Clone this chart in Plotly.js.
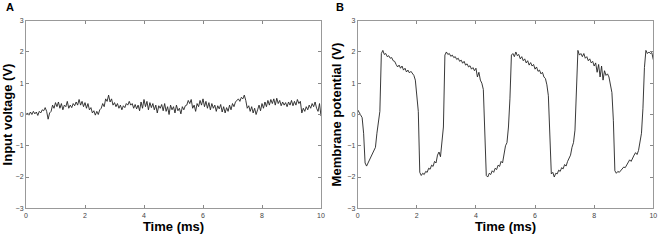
<!DOCTYPE html>
<html>
<head>
<meta charset="utf-8">
<script src="https://cdn.plot.ly/plotly-3.0.1.min.js"></script>
<style>html,body{margin:0;padding:0;background:#fff;}#chart{width:661px;height:240px;}</style>
</head>
<body>
<div id="chart"></div>
<script>
// Panel A: input voltage (V), sampled every 0.05 ms from 0 to 10 ms
const inputVoltage = [
  0.0, 0.05, -0.02, 0.08, 0.0, 0.1, 0.02, 0.08, -0.03, 0.1,
  0.05, 0.15, 0.12, 0.22, 0.1, -0.15, 0.05, 0.1, 0.3, 0.2,
  0.38, 0.25, 0.4, 0.2, 0.35, 0.15, 0.3, 0.25, 0.42, 0.2,
  0.3, 0.22, 0.35, 0.28, 0.4, 0.3, 0.48, 0.3, 0.42, 0.25,
  0.38, 0.2, 0.35, 0.15, 0.22, 0.05, 0.12, -0.02, 0.1, 0.0,
  0.15, 0.2, 0.35, 0.25, 0.5, 0.42, 0.62, 0.4, 0.5, 0.3,
  0.38, 0.25, 0.35, 0.2, 0.3, 0.15, 0.28, 0.22, 0.35, 0.3,
  0.42, 0.3, 0.35, 0.2, 0.32, 0.18, 0.3, 0.12, 0.4, 0.2,
  0.48, 0.25, 0.42, 0.15, 0.38, 0.22, 0.35, 0.15, 0.3, 0.05,
  0.28, 0.2, 0.32, 0.12, 0.35, 0.1, 0.25, 0.0, 0.3, 0.15,
  0.25, 0.05, 0.3, 0.12, 0.2, 0.02, 0.25, 0.15, 0.28, 0.3,
  0.45, 0.35, 0.48, 0.2, 0.3, 0.1, 0.35, 0.25, 0.45, 0.3,
  0.5, 0.25, 0.42, 0.2, 0.38, 0.15, 0.35, 0.2, 0.3, 0.1,
  0.28, 0.18, 0.32, 0.08, 0.25, 0.05, 0.22, 0.1, 0.3, 0.15,
  0.35, 0.25, 0.4, 0.45, 0.5, 0.42, 0.55, 0.5, 0.62, 0.45,
  0.2, 0.28, 0.1, 0.25, 0.05, 0.2, 0.0, 0.15, 0.3, 0.12,
  0.35, 0.2, 0.4, 0.25, 0.45, 0.3, 0.48, 0.35, 0.5, 0.3,
  0.52, 0.35, 0.45, 0.28, 0.4, 0.3, 0.38, 0.25, 0.4, 0.3,
  0.45, 0.28, 0.42, 0.3, 0.48, 0.35, 0.42, 0.05, 0.2, 0.1,
  0.25, 0.15, 0.3, 0.2, 0.35, 0.25, 0.4, 0.2, 0.1, 0.35,
  -0.05
];
// Panel B: membrane potential (V), sampled every 0.05 ms from 0 to 10 ms
const membranePotential = [
  0.15, 0.05, -0.02, -0.1, -0.6, -1.55, -1.65, -1.55, -1.5, -1.35,
  -1.3, -1.15, -1.05, -0.6, -0.2, 0.1, 1.95, 2.05, 1.92, 1.95,
  1.85, 1.88, 1.8, 1.82, 1.72, 1.7, 1.6, 1.52, 1.58, 1.48,
  1.55, 1.42, 1.48, 1.36, 1.42, 1.33, 1.38, 1.3, 1.25, 1.1,
  0.45, 0.1, -1.85, -1.95, -1.88, -1.92, -1.82, -1.85, -1.72, -1.75,
  -1.62, -1.66, -1.5, -1.55, -1.3, -1.2, -1.35, -0.9, -0.4, 1.9,
  2.0, 1.92, 1.95, 1.86, 1.9, 1.82, 1.85, 1.76, 1.8, 1.7,
  1.74, 1.64, 1.7, 1.58, 1.62, 1.52, 1.56, 1.45, 1.5, 1.4,
  1.48, 1.2, 1.35, 1.1, 1.0, 0.8, -0.5, -1.95, -2.0, -1.88,
  -1.92, -1.8, -1.85, -1.72, -1.76, -1.62, -1.66, -1.5, -1.55, -1.2,
  -1.0, -0.9, -0.4, 0.5, 1.9, 1.95, 1.85, 2.0, 1.88, 1.92,
  1.78, 1.85, 1.72, 1.78, 1.65, 1.72, 1.58, 1.66, 1.55, 1.6,
  1.45, 1.52, 1.38, 1.42, 1.3, 1.35, 1.2, 1.15, 0.95, 0.6,
  -0.5, -1.9, -1.85, -2.0, -1.88, -1.9, -1.78, -1.82, -1.7, -1.74,
  -1.6, -1.65, -1.5, -1.42, -1.3, -1.05, -0.9, -0.5, 0.6, 2.05,
  1.9, 1.95, 1.85, 1.95, 1.8, 1.85, 1.72, 1.78, 1.65, 1.7,
  1.55, 1.65, 1.35, 1.6, 1.2, 1.55, 1.1, 1.4, 1.25, 1.3,
  1.2, 1.0, 0.7, -0.2, -1.8, -1.88, -1.82, -1.85, -1.78, -1.75,
  -1.68, -1.7, -1.6, -1.55, -1.45, -1.5, -1.38, -1.3, -1.22, -1.28,
  -1.15, -0.9, -0.6, 0.2, 1.5, 2.05, 1.95, 2.0, 1.95, 1.98,
  1.75
];
const xTickVals = [0, 2, 4, 6, 8, 10];
const yTickVals = [-3, -2, -1, 0, 1, 2, 3];
const panelLabels = ['A', 'B'];
const yTitles = ['Input voltage (V)', 'Membrane potential (V)'];
const xTitle = 'Time (ms)';

function timesFor(arr) {
  const dt = 10 / (arr.length - 1);
  return arr.map((_, i) => +(i * dt).toFixed(4));
}

const lineStyle = {color: '#222', width: 0.9};
const traces = [
  {x: timesFor(inputVoltage), y: inputVoltage, type: 'scatter', mode: 'lines', line: lineStyle, xaxis: 'x', yaxis: 'y', hoverinfo: 'skip'},
  {x: timesFor(membranePotential), y: membranePotential, type: 'scatter', mode: 'lines', line: lineStyle, xaxis: 'x2', yaxis: 'y2', hoverinfo: 'skip'}
];

const tickFont = {family: 'Liberation Sans, Arial, sans-serif', size: 7, color: '#444'};
const titleFont = {family: 'Liberation Sans, Arial, sans-serif', size: 13, color: '#000', weight: 'bold'};

function xAxis(domain, anchor) {
  return {
    domain: domain, anchor: anchor, range: [0, 10], tickvals: xTickVals,
    ticks: 'inside', ticklen: 3, tickcolor: '#888', tickwidth: 1,
    showline: true, linecolor: '#999', linewidth: 1, mirror: 'ticks',
    showgrid: false, zeroline: false, tickfont: tickFont,
    title: {text: '<b>' + xTitle + '</b>', font: titleFont, standoff: 4}
  };
}
function yAxis(domain, anchor, title) {
  return {
    domain: domain, anchor: anchor, range: [-3, 3], tickvals: yTickVals,
    ticks: 'inside', ticklen: 3, tickcolor: '#888', tickwidth: 1,
    showline: true, linecolor: '#999', linewidth: 1, mirror: 'ticks',
    showgrid: false, zeroline: false, tickfont: tickFont,
    title: {text: '<b>' + title + '</b>', font: titleFont, standoff: 2}
  };
}

const yDom = [1 - 208.3 / 240, 1 - 20.7 / 240];
const layout = {
  width: 661, height: 240,
  margin: {l: 0, r: 0, t: 0, b: 0},
  paper_bgcolor: '#fff', plot_bgcolor: '#fff',
  showlegend: false,
  xaxis: xAxis([26 / 661, 321 / 661], 'y'),
  yaxis: yAxis(yDom, 'x', yTitles[0]),
  xaxis2: xAxis([357.7 / 661, 653.3 / 661], 'y2'),
  yaxis2: yAxis(yDom, 'x2', yTitles[1]),
  annotations: [
    {text: '<b>' + panelLabels[0] + '</b>', x: 4 / 661, y: 1 - 7 / 240, xref: 'paper', yref: 'paper', xanchor: 'left', yanchor: 'middle', showarrow: false, font: {family: 'Liberation Sans, Arial, sans-serif', size: 11, color: '#000'}},
    {text: '<b>' + panelLabels[1] + '</b>', x: 334 / 661, y: 1 - 7 / 240, xref: 'paper', yref: 'paper', xanchor: 'left', yanchor: 'middle', showarrow: false, font: {family: 'Liberation Sans, Arial, sans-serif', size: 11, color: '#000'}}
  ]
};

Plotly.newPlot('chart', traces, layout, {staticPlot: true, displayModeBar: false});
</script>
</body>
</html>
